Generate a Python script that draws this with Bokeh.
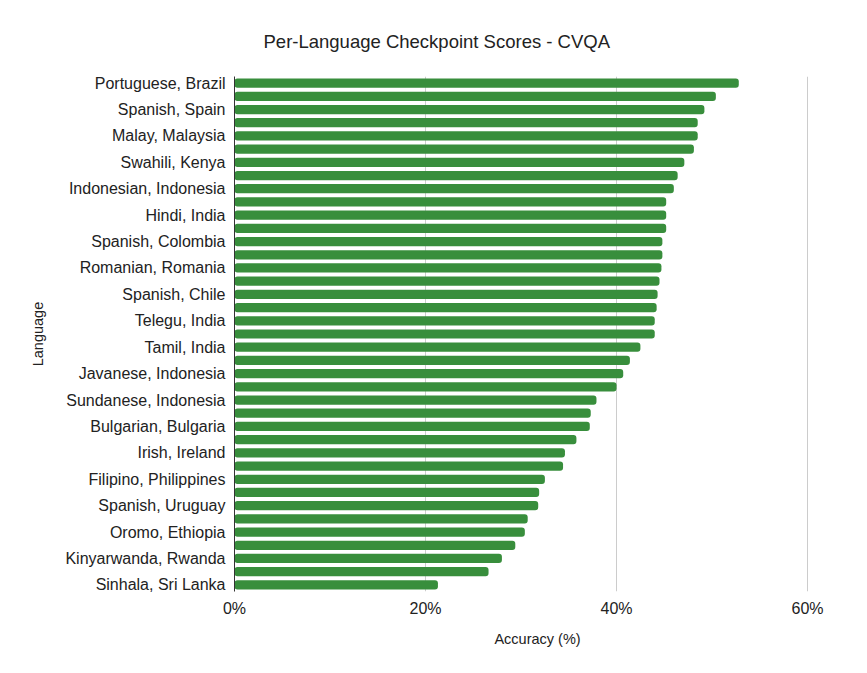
from bokeh.plotting import figure
from bokeh.models import Range1d, FixedTicker, NumeralTickFormatter, ColumnDataSource
from bokeh.embed import file_html
from bokeh.resources import INLINE

# Every other bar is labelled in the reference; unlabelled bars have None
languages = [
    "Portuguese, Brazil", None, "Spanish, Spain", None, "Malay, Malaysia", None,
    "Swahili, Kenya", None, "Indonesian, Indonesia", None, "Hindi, India", None,
    "Spanish, Colombia", None, "Romanian, Romania", None, "Spanish, Chile", None,
    "Telegu, India", None, "Tamil, India", None, "Javanese, Indonesia", None,
    "Sundanese, Indonesia", None, "Bulgarian, Bulgaria", None, "Irish, Ireland", None,
    "Filipino, Philippines", None, "Spanish, Uruguay", None, "Oromo, Ethiopia", None,
    "Kinyarwanda, Rwanda", None, "Sinhala, Sri Lanka",
]
scores = [
    52.8, 50.4, 49.2, 48.5, 48.5, 48.1, 47.1, 46.4, 46.0, 45.2, 45.2, 45.2, 44.8,
    44.8, 44.7, 44.5, 44.3, 44.2, 44.0, 44.0, 42.5, 41.4, 40.7, 40.0, 37.9, 37.3,
    37.2, 35.8, 34.6, 34.4, 32.5, 31.9, 31.8, 30.7, 30.4, 29.4, 28.0, 26.6, 21.3,
]
x_ticks = [0, 20, 40, 60]

FONT = "Liberation Sans"
pos = list(range(1, len(scores) + 1))
src = ColumnDataSource(dict(y=pos, v=[s / 100 for s in scores]))

p = figure(width=850, height=655, output_backend="svg", toolbar_location=None,
           x_range=Range1d(0, 0.6345), y_range=Range1d(len(scores) + 0.5, 0.5),
           min_border_left=234, min_border_right=10, min_border_top=76,
           min_border_bottom=64)

p.hbar(y="y", right="v", left=0, height=0.7, source=src, color="#388E3C",
       line_color=None, border_radius=3)

p.title.text = "Per-Language Checkpoint Scores - CVQA"
p.title.text_font = FONT
p.title.text_font_size = "18.5px"
p.title.text_font_style = "normal"
p.title.text_color = "#222222"
p.title.align = "left"
p.title.offset = 29
p.title.standoff = 49

p.outline_line_color = None
p.ygrid.grid_line_color = None
p.xgrid.grid_line_color = "#cccccc"
p.xgrid.ticker = FixedTicker(ticks=[t / 100 for t in x_ticks[1:]])

p.xaxis.ticker = FixedTicker(ticks=[t / 100 for t in x_ticks])
p.xaxis.formatter = NumeralTickFormatter(format="0%")
p.xaxis.axis_line_color = None
p.xaxis.major_label_standoff = 8
p.xaxis.axis_label = "Accuracy (%)"
p.xaxis.axis_label_standoff = 11

tick_pos = [y for y, n in zip(pos, languages) if n is not None]
p.yaxis.ticker = FixedTicker(ticks=tick_pos)
p.yaxis.major_label_overrides = {y: n for y, n in zip(pos, languages) if n is not None}
p.yaxis.axis_line_color = "#333333"
p.yaxis.major_label_standoff = 9
p.yaxis.axis_label = "Language"
p.yaxis.axis_label_standoff = 16

for ax in (p.xaxis, p.yaxis):
    ax.major_tick_line_color = None
    ax.minor_tick_line_color = None
    ax.major_tick_out = 0
    ax.major_tick_in = 0
    ax.minor_tick_out = 0
    ax.major_label_text_font = FONT
    ax.major_label_text_font_size = "16px"
    ax.major_label_text_color = "#222222"
    ax.axis_label_text_font = FONT
    ax.axis_label_text_font_size = "14.5px"
    ax.axis_label_text_font_style = "normal"
    ax.axis_label_text_color = "#222222"

open("out.html", "w").write(file_html(p, INLINE))
